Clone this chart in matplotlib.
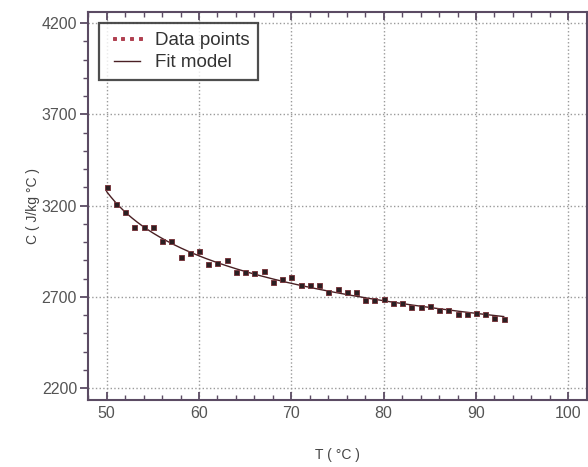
import numpy as np
import matplotlib
matplotlib.use("Agg")
import matplotlib.pyplot as plt
from matplotlib.ticker import MultipleLocator

plt.rcParams['font.family'] = ['Liberation Sans', 'DejaVu Sans']

# Measured specific heat vs temperature
temperature = [50, 51, 52, 53, 54, 55, 56, 57, 58, 59, 60, 61, 62, 63, 64, 65,
               66, 67, 68, 69, 70, 71, 72, 73, 74, 75, 76, 77, 78, 79, 80, 81,
               82, 83, 84, 85, 86, 87, 88, 89, 90, 91, 92, 93]
heat_capacity = [3301, 3208, 3164, 3082, 3082, 3082, 3005, 3005, 2917, 2939,
                 2950, 2879, 2885, 2901, 2835, 2835, 2830, 2841, 2780, 2797,
                 2808, 2764, 2764, 2764, 2726, 2742, 2726, 2726, 2682, 2682,
                 2687, 2665, 2665, 2644, 2644, 2649, 2627, 2627, 2605, 2605,
                 2611, 2605, 2583, 2578]

x_ticks = [50, 60, 70, 80, 90, 100]
y_ticks = [2200, 2700, 3200, 3700, 4200]

T = np.array(temperature, dtype=float)
C = np.array(heat_capacity, dtype=float)

# Least-squares fit of C = a + b * (T - t0)^(-n), scanning t0 and n
best = None
for t0 in np.linspace(30.0, 49.8, 100):
    for n in np.linspace(0.1, 3.0, 59):
        A = np.column_stack([np.ones_like(T), (T - t0) ** (-n)])
        coef, *_ = np.linalg.lstsq(A, C, rcond=None)
        err = np.sum((A @ coef - C) ** 2)
        if best is None or err < best[0]:
            best = (err, t0, n, coef)
_, t0_fit, n_fit, (a_fit, b_fit) = best
T_fit = np.linspace(T.min(), T.max(), 300)
C_fit = a_fit + b_fit * (T_fit - t0_fit) ** (-n_fit)

fig = plt.figure(figsize=(5.88, 4.67), dpi=100)
ax = fig.add_axes([0.150, 0.1435, 0.848, 0.831])

ax.plot(T, C, linestyle='none', marker='s', markersize=3.6,
        markerfacecolor='#2b1f22', markeredgecolor='#7a3a40',
        markeredgewidth=0.7, label='Data points', zorder=3)
ax.plot(T_fit, C_fit, color='#4a2024', linewidth=1.0, label='Fit model',
        zorder=2)

ax.set_xlim(48, 102)
ax.set_ylim(2135, 4262)
ax.set_xticks(x_ticks)
ax.set_yticks(y_ticks)
ax.xaxis.set_minor_locator(MultipleLocator(2))
ax.yaxis.set_minor_locator(MultipleLocator(100))

spine_col = '#5b4b63'
for s in ax.spines.values():
    s.set_color(spine_col)
    s.set_linewidth(1.5)

ax.tick_params(axis='x', which='both', direction='in', top=True,
               colors=spine_col, labelcolor='#555555', labelsize=11.5,
               pad=4)
ax.tick_params(axis='y', which='both', direction='out', right=False,
               colors=spine_col, labelcolor='#555555', labelsize=11.5,
               pad=2)
ax.tick_params(which='major', length=6, width=1.3)
ax.tick_params(which='minor', length=3.5, width=1.0)

ax.grid(True, which='major', linestyle=':', color='#9a9a9a', linewidth=1.0)

ax.set_xlabel('T ( °C )', fontsize=10, color='#444444', labelpad=20)
ax.set_ylabel('C ( J/kg °C )', fontsize=10, color='#444444', labelpad=1)

leg = ax.legend(loc='upper left', numpoints=4, fontsize=13.5,
                frameon=True, fancybox=False, handlelength=2.0,
                borderaxespad=0.6, labelcolor='#333333',
                markerscale=0.6, borderpad=0.45, labelspacing=0.3,
                handletextpad=0.5)
leg.get_frame().set_edgecolor('#222222')
leg.get_frame().set_linewidth(1.6)
leg.legend_handles[0].set_markerfacecolor('#b04050')
leg.legend_handles[0].set_markeredgecolor('#b04050')

fig.savefig('out.png', dpi=100)
